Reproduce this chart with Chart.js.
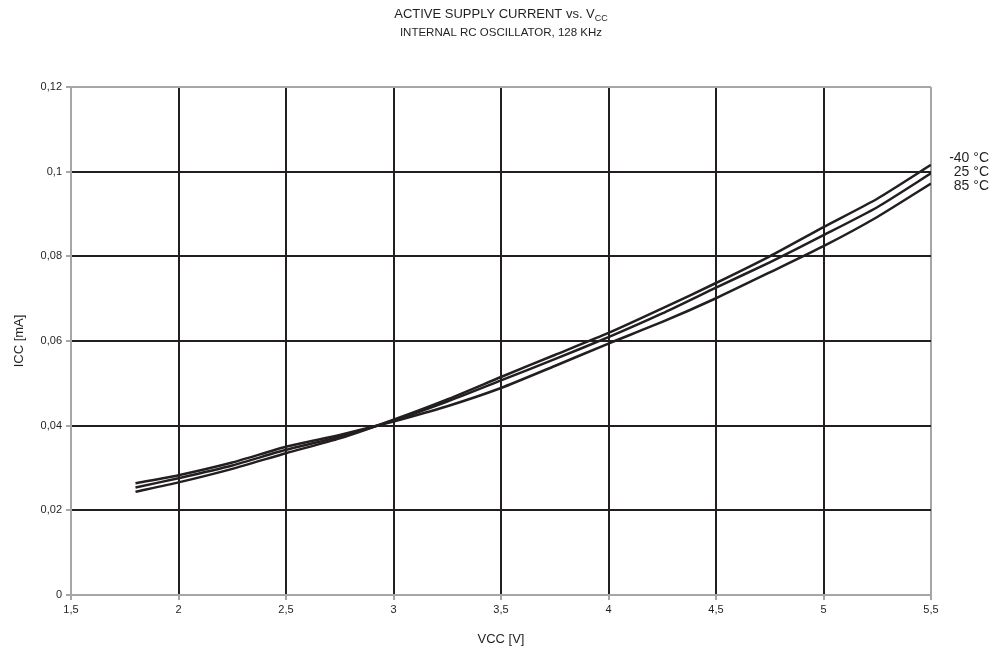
<!DOCTYPE html>
<html>
<head>
<meta charset="utf-8">
<script src="https://cdn.jsdelivr.net/npm/chart.js@4.4.0/dist/chart.umd.min.js"></script>
<style>
  html, body { margin: 0; padding: 0; background: #ffffff; }
  #wrap { width: 997px; height: 647px; position: relative; }
</style>
</head>
<body>
<div id="wrap"><canvas id="c" width="997" height="647"></canvas></div>
<script>
// ---- data ----
const vcc = [1.8, 2.0, 2.25, 2.5, 2.75, 3.0, 3.25, 3.5, 3.75, 4.0, 4.25, 4.5, 4.75, 5.0, 5.25, 5.5];
const iccMinus40 = [0.0244, 0.0266, 0.0298, 0.0335, 0.0370, 0.0414, 0.0462, 0.0515, 0.0567, 0.0619, 0.0677, 0.0737, 0.0800, 0.0869, 0.0936, 0.1016];
const icc25      = [0.0254, 0.0276, 0.0306, 0.0343, 0.0374, 0.0412, 0.0457, 0.0507, 0.0557, 0.0609, 0.0665, 0.0726, 0.0786, 0.0850, 0.0916, 0.0996];
const icc85      = [0.0264, 0.0283, 0.0313, 0.0350, 0.0378, 0.0410, 0.0446, 0.0489, 0.0541, 0.0594, 0.0645, 0.0701, 0.0762, 0.0824, 0.0893, 0.0972];
const seriesLabels = ['-40 °C', '25 °C', '85 °C'];
const xTickLabels = ['1,5', '2', '2,5', '3', '3,5', '4', '4,5', '5', '5,5'];
const yTickLabels = ['0', '0,02', '0,04', '0,06', '0,08', '0,1', '0,12'];
const titleMain = 'ACTIVE SUPPLY CURRENT vs. V';
const titleSub = 'CC';
const subtitle = 'INTERNAL RC OSCILLATOR, 128 KHz';
const xTitle = 'VCC [V]';
const yTitle = 'ICC [mA]';

const lineColor = '#231f20';
const gridDark = '#231f20';
const axisGray = '#a6a6a6';
const textColor = '#231f20';
const fontFamily = '"Liberation Sans", Arial, sans-serif';

function toPts(ys) { return vcc.map((v, i) => ({ x: v, y: ys[i] })); }
const allSeries = [iccMinus40, icc25, icc85];

const decorPlugin = {
  id: 'decor',
  afterDraw(chart) {
    const ctx = chart.ctx;
    const area = chart.chartArea;
    ctx.save();
    ctx.fillStyle = textColor;
    ctx.font = '13px ' + fontFamily;
    ctx.textBaseline = 'alphabetic';
    const mainW = ctx.measureText(titleMain).width;
    ctx.font = '9px ' + fontFamily;
    const subW = ctx.measureText(titleSub).width;
    const cx = (area.left + area.right) / 2;
    const startX = cx - (mainW + subW) / 2;
    ctx.textAlign = 'left';
    ctx.font = '13px ' + fontFamily;
    ctx.fillText(titleMain, startX, 18);
    ctx.font = '9px ' + fontFamily;
    ctx.fillText(titleSub, startX + mainW, 21);
    ctx.font = '11.5px ' + fontFamily;
    ctx.textAlign = 'center';
    ctx.fillText(subtitle, cx, 36);
    ctx.font = '14px ' + fontFamily;
    ctx.textAlign = 'right';
    ctx.textBaseline = 'middle';
    const ys = chart.scales.y;
    const top = ys.getPixelForValue(allSeries[0][allSeries[0].length - 1]);
    seriesLabels.forEach((lab, i) => {
      ctx.fillText(lab, 989, top - 7 + i * 14);
    });
    ctx.restore();
  }
};

new Chart(document.getElementById('c'), {
  type: 'line',
  data: {
    datasets: allSeries.map((s, i) => ({
      label: seriesLabels[i],
      data: toPts(s),
      borderColor: lineColor,
      borderWidth: 2.5,
      pointRadius: 0,
      tension: 0.2,
      fill: false
    }))
  },
  options: {
    responsive: false,
    animation: false,
    devicePixelRatio: 1,
    layout: { padding: { left: 0, right: 66, top: 87, bottom: 0 } },
    plugins: { legend: { display: false }, title: { display: false }, tooltip: { enabled: false } },
    scales: {
      x: {
        type: 'linear',
        min: 1.5, max: 5.5,
        afterBuildTicks(scale) {
          scale.ticks = xTickLabels.map((t, i) => ({ value: 1.5 + i * 0.5 }));
        },
        afterFit(scale) { scale.height = 52; },
        ticks: {
          color: textColor,
          font: { family: fontFamily, size: 11 },
          padding: 3,
          maxRotation: 0,
          autoSkip: false,
          callback: (v, i) => xTickLabels[i]
        },
        grid: {
          color: (c) => (c.index === 0 || c.index === xTickLabels.length - 1) ? axisGray : gridDark,
          lineWidth: 2,
          tickColor: axisGray,
          tickLength: 5,
          drawTicks: true
        },
        border: { color: axisGray, width: 2 },
        title: {
          display: true, text: xTitle, color: textColor,
          font: { family: fontFamily, size: 13 },
          padding: { top: 1, bottom: 0 }
        }
      },
      y: {
        type: 'linear',
        min: 0, max: 0.12,
        afterBuildTicks(scale) {
          scale.ticks = yTickLabels.map((t, i) => ({ value: i * 0.02 }));
        },
        afterFit(scale) { scale.width = 71; },
        ticks: {
          color: textColor,
          font: { family: fontFamily, size: 11 },
          padding: 4,
          autoSkip: false,
          callback: (v, i) => yTickLabels[i]
        },
        grid: {
          color: (c) => (c.index === 0 || c.index === yTickLabels.length - 1) ? axisGray : gridDark,
          lineWidth: 2,
          tickColor: axisGray,
          tickLength: 5,
          drawTicks: true
        },
        border: { color: axisGray, width: 2 },
        title: {
          display: true, text: yTitle, color: textColor,
          font: { family: fontFamily, size: 13 },
          padding: { top: 12, bottom: 0 }
        }
      }
    }
  },
  plugins: [decorPlugin]
});
</script>
</body>
</html>
